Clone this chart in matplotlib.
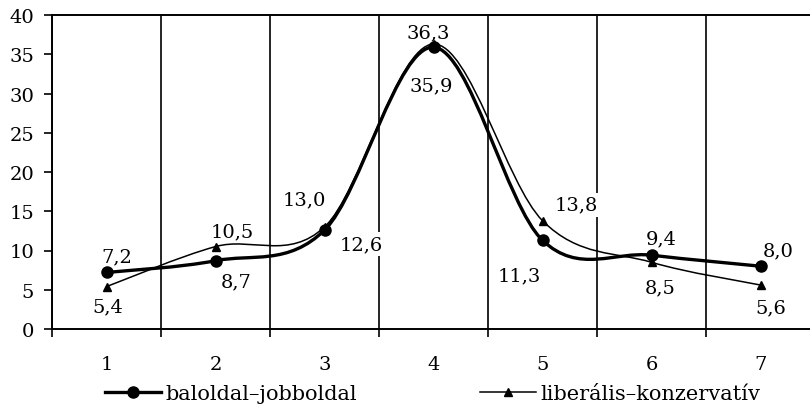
import numpy as np
import matplotlib
matplotlib.use("Agg")
import matplotlib.pyplot as plt
from matplotlib.path import Path
from matplotlib.patches import PathPatch

plt.rcParams['font.family'] = ['DejaVu Serif']

# data
categories = [1, 2, 3, 4, 5, 6, 7]
baloldal = [7.2, 8.7, 12.6, 35.9, 11.3, 9.4, 8.0]
liberalis = [5.4, 10.5, 13.0, 36.3, 13.8, 8.5, 5.6]
labels_bal = ['7,2', '8,7', '12,6', '35,9', '11,3', '9,4', '8,0']
labels_lib = ['5,4', '10,5', '13,0', '36,3', '13,8', '8,5', '5,6']

# label offsets in pixels (dx, dy)
off_bal = [(10, 16), (21, -21), (37, -14), (-2, -38), (-23, -35), (10, 17), (18, 16)]
off_lib = [(1, -20), (17, 15), (-20, 28), (-5, 12), (34, 16), (9, -25), (10, -22)]


def smooth_path(x, y, t=1/6):
    """Excel-like smoothed line as cubic Bezier segments."""
    pts = np.column_stack([x, y]).astype(float)
    n = len(pts)
    verts = [pts[0]]
    codes = [Path.MOVETO]
    for i in range(n - 1):
        p0 = pts[i - 1] if i > 0 else pts[i]
        p1 = pts[i]
        p2 = pts[i + 1]
        p3 = pts[i + 2] if i + 2 < n else pts[i + 1]
        c1 = p1 + (p2 - p0) * t
        c2 = p2 - (p3 - p1) * t
        verts += [c1, c2, p2]
        codes += [Path.CURVE4] * 3
    return Path(verts, codes)


fig = plt.figure(figsize=(8.1, 4.06), dpi=100)
ax = fig.add_axes([52 / 810, 1 - 330 / 406, 763 / 810, 314 / 406])

ax.add_patch(PathPatch(smooth_path(categories, liberalis), fill=False,
                       lw=1.1, color='black', zorder=4))
ax.add_patch(PathPatch(smooth_path(categories, baloldal), fill=False,
                       lw=2.4, color='black', zorder=5))
ax.plot(categories, baloldal, ls='none', marker='o', ms=8,
        color='black', zorder=6)
ax.plot(categories, liberalis, ls='none', marker='^', ms=6,
        color='black', zorder=6)

for vals, labs, offs in [(baloldal, labels_bal, off_bal),
                         (liberalis, labels_lib, off_lib)]:
    for x, y, s, (dx, dy) in zip(categories, vals, labs, offs):
        ax.annotate(s, (x, y), xytext=(dx, dy), textcoords='offset pixels',
                    ha='center', va='center', fontsize=14, zorder=3,
                    bbox=dict(boxstyle='square,pad=0.15', fc='white', ec='none'))

ax.set_xlim(0.5, 7.5)
ax.set_ylim(0, 40)
ax.set_yticks(np.arange(0, 41, 5))
ax.set_xticks(categories)
ax.set_xticks(np.arange(0.5, 8, 1), minor=True)
ax.grid(True, which='minor', axis='x', color='black', lw=1.2, zorder=1)
ax.set_axisbelow(True)
ax.tick_params(axis='x', which='major', length=0, pad=19, labelsize=14)
ax.tick_params(axis='x', which='minor', length=6, width=1.2, direction='out')
ax.tick_params(axis='y', length=6, width=1.2, direction='out', pad=7,
               labelsize=14)
for sp in ax.spines.values():
    sp.set_linewidth(1.4)

# legend handles
h1, = ax.plot([], [], color='black', lw=2.4, marker='o', ms=8)
h2, = ax.plot([], [], color='black', lw=1.1, marker='^', ms=6)
fig.legend([h1, h2], ['baloldal–jobboldal', 'liberális–konzervatív'],
           loc='center left', bbox_to_anchor=(105 / 810, 1 - 395 / 406),
           ncol=2, frameon=False, fontsize=15, handlelength=2.7,
           handletextpad=0.2, columnspacing=5.9, borderaxespad=0,
           borderpad=0)

fig.savefig('out.png', dpi=100)
